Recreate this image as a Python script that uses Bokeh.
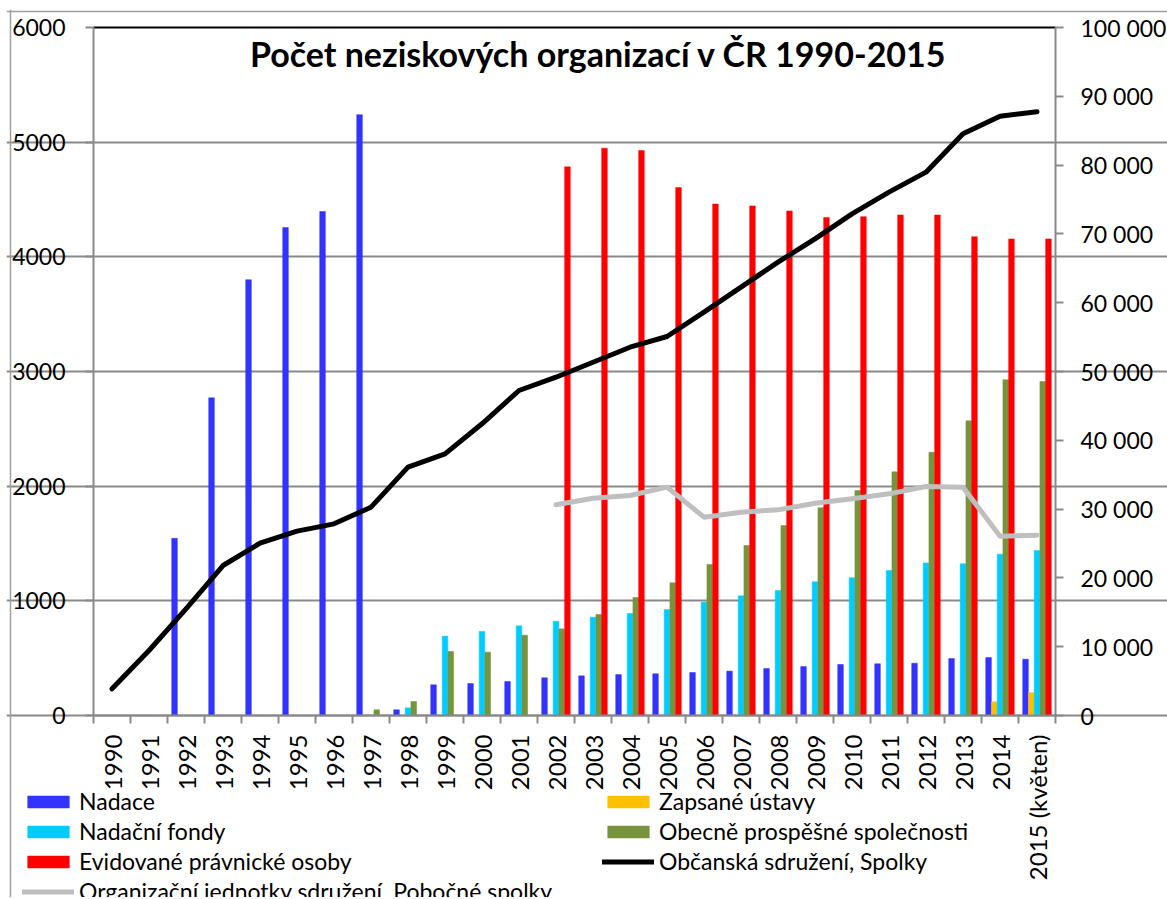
import numpy as np
from bokeh.plotting import figure
from bokeh.models import (Range1d, LinearAxis, FixedTicker, Legend, LegendItem,
                          Label, Span)
from bokeh.embed import file_html
from bokeh.resources import INLINE

# ---------------- data ----------------
years = ["1990", "1991", "1992", "1993", "1994", "1995", "1996", "1997", "1998",
         "1999", "2000", "2001", "2002", "2003", "2004", "2005", "2006", "2007",
         "2008", "2009", "2010", "2011", "2012", "2013", "2014", "2015 (květen)"]

nadace = [0, 0, 1545, 2770, 3800, 4255, 4395, 5240, 50, 268, 279, 297, 329, 346,
          357, 364, 375, 387, 410, 427, 445, 451, 456, 497, 506, 491]
zapsane_ustavy = [0, 0, 0, 0, 0, 0, 0, 0, 0, 0, 0, 0, 0, 0, 0, 0, 0, 0, 0, 0, 0,
                  0, 0, 0, 119, 200]
nadacni_fondy = [0, 0, 0, 0, 0, 0, 0, 0, 67, 692, 733, 782, 822, 857, 890, 924,
                 988, 1044, 1090, 1166, 1201, 1265, 1331, 1323, 1407, 1439]
obecne_prospesne = [0, 0, 0, 0, 0, 0, 0, 50, 122, 558, 552, 700, 756, 881, 1030,
                    1157, 1317, 1483, 1657, 1811, 1962, 2125, 2296, 2570, 2928, 2913]
evidovane = [0, 0, 0, 0, 0, 0, 0, 0, 0, 0, 0, 0, 4785, 4948, 4927, 4604, 4461,
             4444, 4400, 4344, 4350, 4365, 4365, 4176, 4156, 4156]
obcanska_sdruzeni = [3876, 9448, 15500, 21802, 25048, 26793, 27858, 30281, 36095,
                     38033, 42396, 47238, 49172, 51352, 53532, 55087, 58619, 62258,
                     65891, 69283, 72917, 76066, 78973, 84545, 87112, 87742]
organizacni_jednotky = [None] * 12 + [30620, 31589, 31977, 33188, 28828, 29554,
                                      29893, 30862, 31492, 32219, 33285, 33188,
                                      26066, 26211]

left_ticks = [0, 1000, 2000, 3000, 4000, 5000, 6000]
right_ticks = [0, 10000, 20000, 30000, 40000, 50000, 60000, 70000, 80000, 90000, 100000]
right_tick_labels = ["0", "10 000", "20 000", "30 000", "40 000", "50 000",
                     "60 000", "70 000", "80 000", "90 000", "100 000"]
title_text = "Počet neziskových organizací v ČR 1990-2015"

# ---------------- layout constants (pixels) ----------------
FONT = "Lato"
GRAY = "#898989"
N = len(years)
x = np.arange(N)

CAT_PX = 37.0        # width of one category
PLOT_H = 688         # pixels from value 0 to the top value
LEFT_PAD = 87        # frame extends left of the left value axis
RIGHT_PAD = 112      # frame extends right of the right value axis
TOP_PAD = 18         # frame extends above the top value
BOTTOM_PAD = 182     # frame extends below the zero line (labels + legend)
FRAME_W = int(N * CAT_PX + LEFT_PAD + RIGHT_PAD)
FRAME_H = PLOT_H + TOP_PAD + BOTTOM_PAD
LEFT_MAX, RIGHT_MAX = 6000, 100000
x0 = -0.5 - LEFT_PAD / CAT_PX
x1 = N - 0.5 + RIGHT_PAD / CAT_PX

p = figure(frame_width=FRAME_W, frame_height=FRAME_H,
           x_range=Range1d(x0, x1),
           y_range=Range1d(-BOTTOM_PAD / PLOT_H * LEFT_MAX, (1 + TOP_PAD / PLOT_H) * LEFT_MAX),
           output_backend="svg", toolbar_location=None,
           min_border_left=6, min_border_top=9, min_border_right=2,
           min_border_bottom=0, outline_line_color=None,
           background_fill_color="white", border_fill_color="white")
p.extra_y_ranges = {"right": Range1d(-BOTTOM_PAD / PLOT_H * RIGHT_MAX,
                                     (1 + TOP_PAD / PLOT_H) * RIGHT_MAX)}
xa = p.below[0]
ya = p.left[0]

# outer chart border (left and top)
p.add_layout(Span(location=x0 + 4 / CAT_PX, dimension="height",
                  line_color="#A0A0A0", line_width=1.5))
p.add_layout(Span(location=LEFT_MAX * (1 + 16 / PLOT_H), dimension="width",
                  line_color="#A0A0A0", line_width=1.5))

# grid (only across the plot area)
p.xgrid.visible = False
p.ygrid.ticker = FixedTicker(ticks=left_ticks[:-1])
p.ygrid.grid_line_color = GRAY
p.ygrid.grid_line_width = 2
p.ygrid.bounds = (-0.5, N - 0.5)

# black top edge of the plot area
top_ax = LinearAxis(fixed_location=LEFT_MAX, bounds=(-0.5, N - 0.5),
                    ticker=FixedTicker(ticks=[]), axis_line_color="black",
                    axis_line_width=2, major_tick_line_color=None,
                    minor_tick_line_color=None, major_label_text_font_size="0px")
p.add_layout(top_ax, "above")

# x axis, pinned at value 0 inside the frame
xa.fixed_location = 0
xa.bounds = (-0.5, N - 0.5)
xa.ticker = FixedTicker(ticks=list(x), minor_ticks=list(np.arange(-0.5, N, 1.0)))
xa.major_label_overrides = {int(i): years[i] for i in range(N)}
xa.major_label_orientation = np.pi / 2
xa.major_tick_out = 0
xa.major_tick_in = 0
xa.minor_tick_out = 8
xa.minor_tick_in = 0
xa.minor_tick_line_color = GRAY
xa.minor_tick_line_width = 2
xa.axis_line_color = GRAY
xa.axis_line_width = 2
xa.major_label_text_font = FONT
xa.major_label_text_font_size = "24px"
xa.major_label_text_color = "black"
xa.major_label_standoff = 11

# left axis, pinned at the first category boundary
ya.fixed_location = -0.5
ya.bounds = (0, LEFT_MAX)
ya.ticker = FixedTicker(ticks=left_ticks)
ya.major_tick_out = 8
ya.major_tick_in = 0
ya.minor_tick_out = 0
ya.minor_tick_in = 0
ya.major_tick_line_color = GRAY
ya.major_tick_line_width = 2
ya.axis_line_color = GRAY
ya.axis_line_width = 2
ya.major_label_text_font = FONT
ya.major_label_text_font_size = "23px"
ya.major_label_text_color = "black"
ya.major_label_standoff = 20

# right axis, pinned at the last category boundary
ra = LinearAxis(y_range_name="right", ticker=FixedTicker(ticks=right_ticks),
                bounds=(0, RIGHT_MAX), fixed_location=N - 0.5)
ra.major_label_overrides = {t: l for t, l in zip(right_ticks, right_tick_labels)}
ra.major_tick_out = 8
ra.major_tick_in = 0
ra.minor_tick_out = 0
ra.minor_tick_in = 0
ra.major_tick_line_color = GRAY
ra.major_tick_line_width = 2
ra.axis_line_color = GRAY
ra.axis_line_width = 2
ra.major_label_text_font = FONT
ra.major_label_text_font_size = "23px"
ra.major_label_text_color = "black"
ra.major_label_standoff = 17
p.add_layout(ra, "right")

# bars
W = 0.155
series = [
    ("Nadace", nadace, "#3333FF", -2),
    ("Zapsané ústavy", zapsane_ustavy, "#FFC000", -1),
    ("Nadační fondy", nadacni_fondy, "#00CCFF", 0),
    ("Obecně prospěšné společnosti", obecne_prospesne, "#77933C", 1),
    ("Evidované právnické osoby", evidovane, "#FF0000", 2),
]
renderers = {}
for name, vals, col, k in series:
    idx = [i for i, v in enumerate(vals) if v > 0]
    r = p.vbar(x=[i + k * W for i in idx], top=[vals[i] for i in idx], bottom=0,
               width=W * 0.98, fill_color=col, line_color=col, line_width=0.5)
    renderers[name] = r

r_obc = p.line(x, obcanska_sdruzeni, y_range_name="right", line_color="black",
               line_width=5, line_cap="round", line_join="round")
org = [np.nan if v is None else v for v in organizacni_jednotky]
r_org = p.line(x, org, y_range_name="right", line_color="#BFBFBF",
               line_width=5, line_cap="round", line_join="round")
renderers["Občanská sdružení, Spolky"] = r_obc
renderers["Organizační jednotky sdružení, Pobočné spolky"] = r_org

# title inside plot area
p.add_layout(Label(x=13.15, y=5773, text=title_text, text_font=FONT,
                   text_font_style="bold", text_font_size="34px",
                   text_align="center", text_baseline="middle", text_color="black"))

# legends (two columns), placed in the frame area below the axis
def make_legend(names, loc):
    leg = Legend(items=[LegendItem(label=n, renderers=[renderers[n]]) for n in names],
                 location=loc, orientation="vertical")
    leg.label_text_font = FONT
    leg.label_text_font_size = "23px"
    leg.label_text_color = "black"
    leg.glyph_width = 52
    leg.glyph_height = 15
    leg.label_height = 30
    leg.label_standoff = 5
    leg.spacing = 0
    leg.padding = 0
    leg.margin = 0
    leg.background_fill_alpha = 0
    leg.border_line_alpha = 0
    return leg

leg1 = make_legend(["Nadace", "Nadační fondy", "Evidované právnické osoby",
                    "Organizační jednotky sdružení, Pobočné spolky"], (16, -9))
leg2 = make_legend(["Zapsané ústavy", "Obecně prospěšné společnosti",
                    "Občanská sdružení, Spolky"], (596, 21))
p.add_layout(leg1, "center")
p.add_layout(leg2, "center")

open("out.html", "w").write(file_html(p, INLINE))
